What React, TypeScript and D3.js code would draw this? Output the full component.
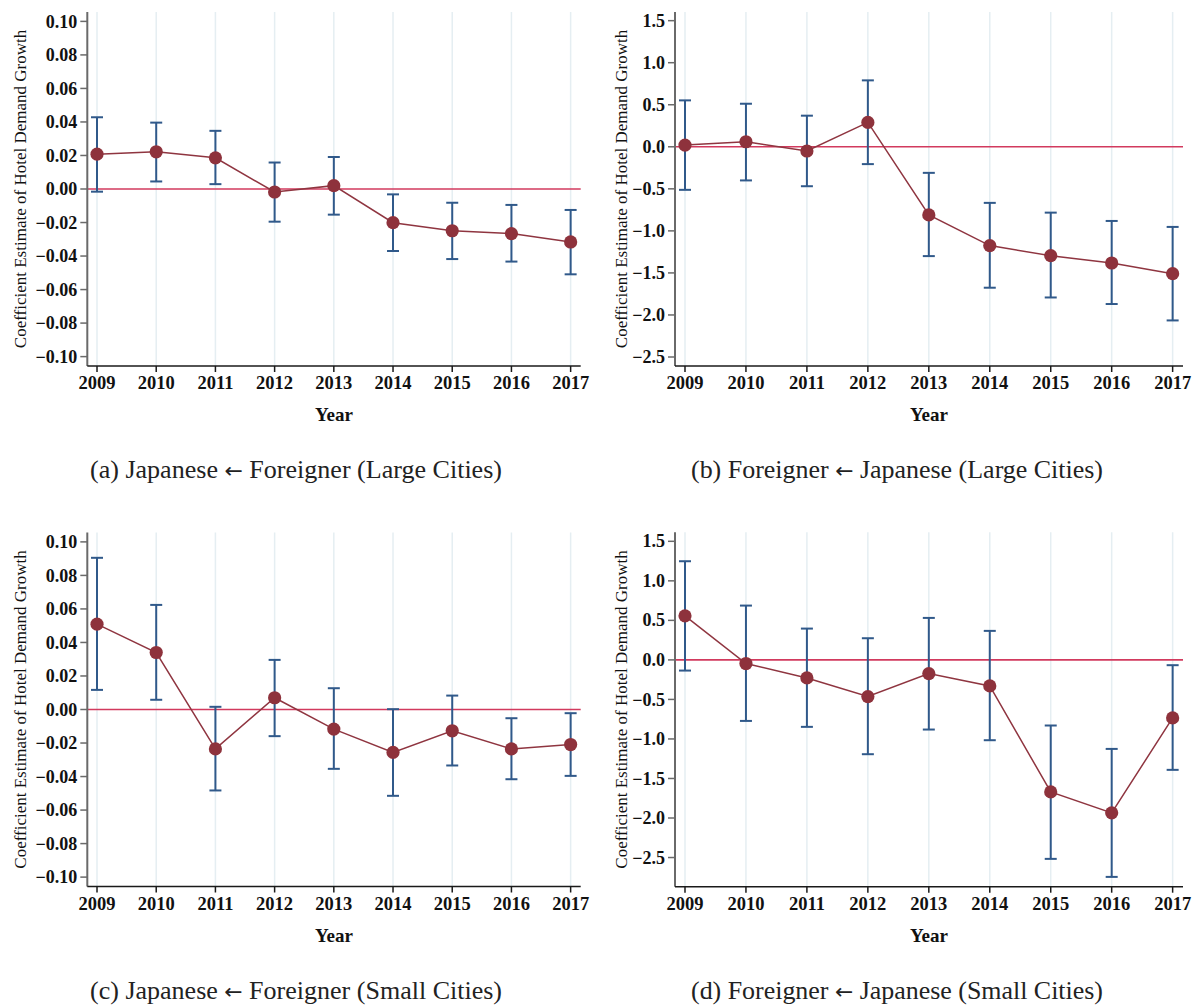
import React from "react";
import * as d3 from "d3";

// Event-study coefficients with 95% confidence intervals, by year
const years = [2009, 2010, 2011, 2012, 2013, 2014, 2015, 2016, 2017];

// (a) Japanese <- Foreigner, large cities
const coefA = [0.0208, 0.0222, 0.0186, -0.0018, 0.002, -0.0201, -0.0249, -0.0266, -0.0316];
const loA = [-0.0016, 0.0045, 0.0029, -0.0195, -0.0153, -0.037, -0.0418, -0.0433, -0.0509];
const hiA = [0.0428, 0.0396, 0.0347, 0.0158, 0.0191, -0.0032, -0.0082, -0.0095, -0.0125];

// (b) Foreigner <- Japanese, large cities
const coefB = [0.02, 0.06, -0.05, 0.29, -0.81, -1.175, -1.295, -1.382, -1.509];
const loB = [-0.512, -0.4, -0.469, -0.206, -1.3, -1.676, -1.792, -1.87, -2.065];
const hiB = [0.552, 0.512, 0.37, 0.79, -0.31, -0.667, -0.783, -0.882, -0.953];

// (c) Japanese <- Foreigner, small cities
const coefC = [0.0509, 0.034, -0.0235, 0.007, -0.0117, -0.0256, -0.0127, -0.0235, -0.0209];
const loC = [0.0117, 0.0058, -0.0483, -0.0159, -0.0354, -0.0515, -0.0334, -0.0416, -0.0396];
const hiC = [0.0905, 0.0624, 0.0016, 0.0296, 0.0127, 0.0002, 0.0083, -0.0052, -0.0022];

// (d) Foreigner <- Japanese, small cities
const coefD = [0.557, -0.046, -0.228, -0.464, -0.173, -0.329, -1.67, -1.935, -0.734];
const loD = [-0.135, -0.772, -0.847, -1.193, -0.881, -1.016, -2.517, -2.745, -1.391];
const hiD = [1.248, 0.687, 0.396, 0.274, 0.531, 0.367, -0.83, -1.126, -0.067];

const smallTicks = [0.1, 0.08, 0.06, 0.04, 0.02, 0, -0.02, -0.04, -0.06, -0.08, -0.1];
const largeTicks = [1.5, 1.0, 0.5, 0, -0.5, -1.0, -1.5, -2.0, -2.5];

// captions: [label, left group, right group, city size]
const captionParts: [string, string, string, string][] = [
  ["(a)", "Japanese", "Foreigner", "(Large Cities)"],
  ["(b)", "Foreigner", "Japanese", "(Large Cities)"],
  ["(c)", "Japanese", "Foreigner", "(Small Cities)"],
  ["(d)", "Foreigner", "Japanese", "(Small Cities)"],
];

const yTitle = "Coefficient Estimate of Hotel Demand Growth";
const xTitle = "Year";

const W = 1198;
const H = 1007;

const COLORS = {
  grid: "#e5eef2",
  zero: "#d23a5e",
  ci: "#30598a",
  line: "#8f3540",
  point: "#8e323c",
  yAxis: "#6a6a6a",
  xAxis: "#1a1a1a",
  text: "#111",
};

const TICK_FONT = "'Liberation Serif', 'Times New Roman', serif";
const CAPTION_FONT = "'Liberation Serif', 'DejaVu Serif', serif";

type PanelSpec = {
  coef: number[];
  lo: number[];
  hi: number[];
  yDomain: [number, number];
  yTicks: number[];
  fmt: string;
  left: number;
  right: number;
  top: number;
  bottom: number;
  titleX: number;
  caption: [string, string, string, string];
  captionX: number;
  captionY: number;
};

const rowShift = 520.5;

const panels: PanelSpec[] = [
  {
    coef: coefA, lo: loA, hi: hiA, yDomain: [-0.1056, 0.1056], yTicks: smallTicks, fmt: ".2f",
    left: 87.3, right: 580.7, top: 12, bottom: 366, titleX: 26,
    caption: captionParts[0], captionX: 296, captionY: 478,
  },
  {
    coef: coefB, lo: loB, hi: hiB, yDomain: [-2.607, 1.603], yTicks: largeTicks, fmt: ".1f",
    left: 675, right: 1183, top: 12, bottom: 366, titleX: 627,
    caption: captionParts[1], captionX: 897, captionY: 478,
  },
  {
    coef: coefC, lo: loC, hi: hiC, yDomain: [-0.1056, 0.1056], yTicks: smallTicks, fmt: ".2f",
    left: 87.3, right: 580.7, top: 12 + rowShift, bottom: 366 + rowShift, titleX: 26,
    caption: captionParts[2], captionX: 296, captionY: 478 + rowShift,
  },
  {
    coef: coefD, lo: loD, hi: hiD, yDomain: [-2.869, 1.614], yTicks: largeTicks, fmt: ".1f",
    left: 675, right: 1183, top: 532.3, bottom: 886.7, titleX: 627,
    caption: captionParts[3], captionX: 897, captionY: 478 + rowShift,
  },
];

function Panel({ p }: { p: PanelSpec }) {
  const x = d3.scaleLinear().domain([2008.836, 2017.17]).range([p.left, p.right]);
  const y = d3.scaleLinear().domain(p.yDomain).range([p.bottom, p.top]);
  const fmt = d3.format(p.fmt);
  const pts = years.map((yr, i) => ({ yr, c: p.coef[i], lo: p.lo[i], hi: p.hi[i] }));
  const line = d3
    .line<{ yr: number; c: number }>()
    .x((d) => x(d.yr))
    .y((d) => y(d.c));
  const capHalf = 6;
  const midY = (p.top + p.bottom) / 2;
  const [lab, from, to, size] = p.caption;

  return (
    <g>
      {/* vertical year gridlines */}
      {years.map((yr) => (
        <line key={"g" + yr} x1={x(yr)} x2={x(yr)} y1={p.top} y2={p.bottom} stroke={COLORS.grid} strokeWidth={1.5} />
      ))}
      {/* reference line at zero */}
      <line x1={p.left} x2={p.right} y1={y(0)} y2={y(0)} stroke={COLORS.zero} strokeWidth={1.6} />
      {/* confidence intervals */}
      {pts.map((d) => (
        <g key={"ci" + d.yr} stroke={COLORS.ci} strokeWidth={2} fill="none">
          <line x1={x(d.yr)} x2={x(d.yr)} y1={y(d.lo)} y2={y(d.hi)} />
          <line x1={x(d.yr) - capHalf} x2={x(d.yr) + capHalf} y1={y(d.lo)} y2={y(d.lo)} />
          <line x1={x(d.yr) - capHalf} x2={x(d.yr) + capHalf} y1={y(d.hi)} y2={y(d.hi)} />
        </g>
      ))}
      {/* point estimates */}
      <path d={line(pts) || ""} fill="none" stroke={COLORS.line} strokeWidth={1.5} />
      {pts.map((d) => (
        <circle key={"p" + d.yr} cx={x(d.yr)} cy={y(d.c)} r={6.6} fill={COLORS.point} />
      ))}
      {/* y axis */}
      <line x1={p.left} x2={p.left} y1={p.top} y2={p.bottom} stroke={COLORS.yAxis} strokeWidth={2} />
      {p.yTicks.map((t) => (
        <g key={"yt" + t}>
          <line x1={p.left - 7} x2={p.left} y1={y(t)} y2={y(t)} stroke={COLORS.yAxis} strokeWidth={1.5} />
          <text
            x={p.left - 10}
            y={y(t)}
            dy="0.34em"
            textAnchor="end"
            fontFamily={TICK_FONT}
            fontWeight="bold"
            fontSize={18}
            fill={COLORS.text}
          >
            {fmt(t)}
          </text>
        </g>
      ))}
      {/* x axis */}
      <line x1={p.left} x2={p.right} y1={p.bottom} y2={p.bottom} stroke={COLORS.xAxis} strokeWidth={1.6} />
      {years.map((yr) => (
        <g key={"xt" + yr}>
          <line x1={x(yr)} x2={x(yr)} y1={p.bottom} y2={p.bottom + 6} stroke={COLORS.xAxis} strokeWidth={1.5} />
          <text
            x={x(yr)}
            y={p.bottom + 23}
            textAnchor="middle"
            fontFamily={TICK_FONT}
            fontWeight="bold"
            fontSize={18.5}
            fill={COLORS.text}
          >
            {yr}
          </text>
        </g>
      ))}
      {/* axis titles */}
      <text
        x={(p.left + p.right) / 2}
        y={p.bottom + 55}
        textAnchor="middle"
        fontFamily={TICK_FONT}
        fontWeight="bold"
        fontSize={19}
        fill={COLORS.text}
      >
        {xTitle}
      </text>
      <text
        transform={`translate(${p.titleX},${midY}) rotate(-90)`}
        textAnchor="middle"
        fontFamily={TICK_FONT}
        fontSize={17}
        fill={COLORS.text}
      >
        {yTitle}
      </text>
      {/* panel caption */}
      <text
        x={p.captionX}
        y={p.captionY}
        textAnchor="middle"
        fontFamily={CAPTION_FONT}
        fontSize={25}
        fill="#222"
        textLength={412}
        lengthAdjust="spacingAndGlyphs"
      >
        {lab} {from}{" "}
        <tspan fontFamily="'DejaVu Sans', sans-serif" fontSize={21}>
          {"\u2190"}
        </tspan>{" "}
        {to} {size}
      </text>
    </g>
  );
}

export default function App() {
  return (
    <div style={{ position: "absolute", left: 0, top: 0, width: W, height: H, background: "#fff" }}>
      <svg width={W} height={H} viewBox={`0 0 ${W} ${H}`} style={{ display: "block" }}>
        <rect width={W} height={H} fill="#fff" />
        {panels.map((p, i) => (
          <Panel key={i} p={p} />
        ))}
      </svg>
    </div>
  );
}
